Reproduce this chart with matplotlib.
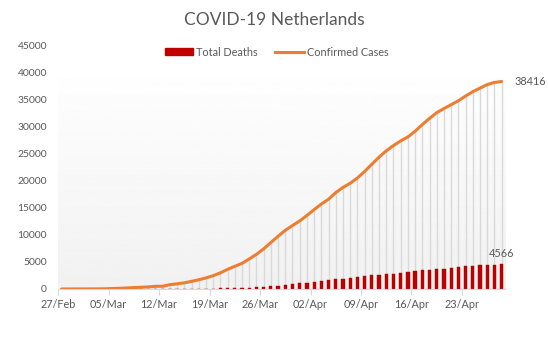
import numpy as np
import matplotlib.pyplot as plt
from matplotlib.patches import Patch
from matplotlib.lines import Line2D

plt.rcParams['font.family'] = ['Lato', 'DejaVu Sans']

#daily data 27/Feb .. 28/Apr
dates = ['27/Feb', '28/Feb', '29/Feb'] + ['%02d/Mar' % d for d in range(1, 32)] + ['%02d/Apr' % d for d in range(1, 29)]

cases = [1, 1, 6, 10, 18, 24, 38, 82, 128, 188, 265, 321, 382, 503, 503, 804, 959, 1135,
         1413, 1705, 2051, 2460, 2994, 3631, 4204, 4749, 5560, 6412, 7431, 8603, 9762,
         10866, 11750, 12595, 13614, 14697, 15723, 16627, 17851, 18803, 19580, 20549,
         21762, 23097, 24413, 25587, 26551, 27419, 28153, 29214, 30449, 31589, 32655,
         33405, 34134, 34842, 35729, 36535, 37190, 37845, 38245, 38416]

deaths = [0, 0, 0, 0, 0, 0, 0, 0, 1, 1, 3, 3, 4, 5, 5, 10, 12, 20, 24, 43, 58, 76, 106,
          136, 179, 213, 276, 356, 434, 546, 639, 771, 864, 1039, 1173, 1339, 1487, 1651,
          1766, 1867, 2101, 2248, 2396, 2511, 2643, 2737, 2823, 2945, 3134, 3315, 3459,
          3601, 3684, 3751, 3916, 4054, 4177, 4289, 4409, 4475, 4518, 4566]

x = np.arange(len(dates))
grey = '#595959'

fig = plt.figure(figsize=(5.48, 3.59), dpi=100)
ax = fig.add_axes([0.106, 0.195, 0.816, 0.677])

#background gradient
grad = np.linspace(1.0, 0.945, 256).reshape(-1, 1)
ax.imshow(grad, cmap='gray', vmin=0, vmax=1, aspect='auto',
          extent=[-0.5, len(x) - 0.5, 0, 42000], zorder=0)

ax.vlines(x, 0, cases, color='#d9d9d9', lw=1, zorder=1)
ax.bar(x, deaths, width=0.45, color='#c00000', edgecolor='#a00000', lw=0.3, zorder=2)
ax.plot(x, cases, color='#ed7d31', lw=2.2, zorder=3, solid_capstyle='round')

ax.set_xlim(-0.5, len(x) - 0.5)
ax.set_ylim(0, 45000)
ax.set_yticks(range(0, 45001, 5000))
ax.set_xticks(x[::7] - 0.5)
ax.set_xticklabels(dates[::7])

for s in ['top', 'right', 'left']:
    ax.spines[s].set_visible(False)
ax.spines['bottom'].set_color('#d9d9d9')
ax.tick_params(axis='y', length=0, labelsize=7.5, labelcolor=grey, pad=8)
ax.tick_params(axis='x', length=4, color='#d9d9d9', labelsize=7.8, labelcolor=grey, pad=3)

#data labels
ax.annotate(str(cases[-1]), (x[-1], cases[-1]), xytext=(9, 0), textcoords='offset points',
            ha='left', va='center', fontsize=7.8, color=grey)
ax.annotate(str(deaths[-1]), (x[-1], deaths[-1]), xytext=(0, 4), textcoords='offset points',
            ha='center', va='bottom', fontsize=7.8, color=grey)

fig.text(0.5, 0.945, 'COVID-19 Netherlands', ha='center', va='center', fontsize=12.5, color=grey)

handles = [Patch(color='#c00000', label='Total Deaths'),
           Line2D([0], [0], color='#ed7d31', lw=2.2, label='Confirmed Cases')]
fig.legend(handles=handles, loc='center', bbox_to_anchor=(0.505, 0.855), ncol=2, frameon=False,
           fontsize=7.8, labelcolor=grey, handlelength=2.6, handleheight=0.6,
           handletextpad=0.3, columnspacing=1.6)

fig.savefig('out.png', dpi=100)
